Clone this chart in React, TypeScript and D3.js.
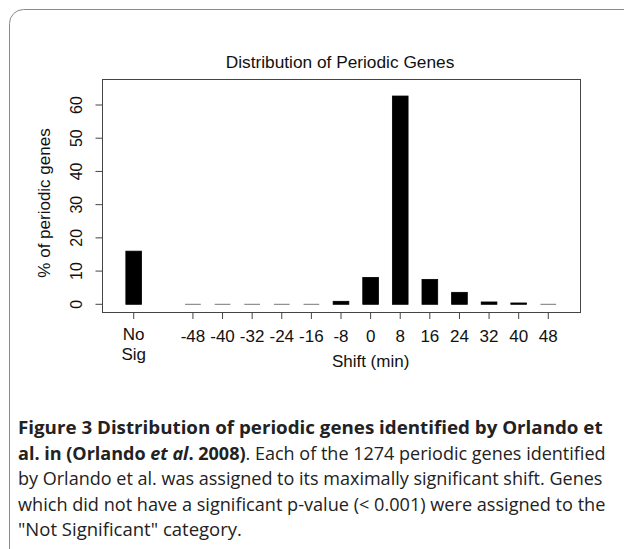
import React, { useEffect, useRef } from "react";
import * as d3 from "d3";

// shift categories (min); "" is the empty slot between No Sig and -48
const categories = ["No Sig", "", "-48", "-40", "-32", "-24", "-16", "-8", "0", "8", "16", "24", "32", "40", "48"];
const percents = [16.0, null, 0, 0, 0, 0, 0, 0.9, 8.1, 62.7, 7.5, 3.6, 0.7, 0.4, 0];
const yTicks = [0, 10, 20, 30, 40, 50, 60];

const captionLines = [
  [{ t: "Figure 3 Distribution of periodic genes identified by Orlando et", w: "bold" }],
  [
    { t: "al. in (Orlando ", w: "bold" },
    { t: "et al", w: "bold", i: true },
    { t: ". 2008)", w: "bold" },
    { t: ". Each of the 1274 periodic genes identified", w: "normal" },
  ],
  [{ t: "by Orlando et al. was assigned to its maximally significant shift. Genes", w: "normal" }],
  [{ t: "which did not have a significant p-value (< 0.001) were assigned to the", w: "normal" }],
  [{ t: "\"Not Significant\" category.", w: "normal" }],
];
const captionWidths = [585, 588, 585, 588, 224];

const W = 624;
const H = 549;

const App = () => {
  const ref = useRef<SVGSVGElement>(null);

  useEffect(() => {
    const svg = d3.select(ref.current);
    svg.selectAll("*").remove();

    const box = { left: 102.5, right: 580.5, top: 79.5, bottom: 312.5 };
    const font = "'Liberation Sans', Arial, Helvetica, sans-serif";

    // card outline
    svg.append("rect")
      .attr("x", 9.5).attr("y", 9.5)
      .attr("width", 700).attr("height", 556)
      .attr("rx", 14)
      .attr("fill", "#fff")
      .attr("stroke", "#8a8a8a");

    const x = d3.scaleBand()
      .domain(categories)
      .range([118.9, 563.1])
      .paddingInner(0.47)
      .paddingOuter(0.235);

    const y = d3.scaleLinear()
      .domain([0, 60])
      .range([304.3, 105]);

    // plot frame
    svg.append("rect")
      .attr("x", box.left).attr("y", box.top)
      .attr("width", box.right - box.left).attr("height", box.bottom - box.top)
      .attr("fill", "none")
      .attr("stroke", "#444");

    svg.append("text")
      .attr("x", 340).attr("y", 68)
      .attr("text-anchor", "middle")
      .attr("font-family", font).attr("font-size", 17.3)
      .attr("fill", "#111")
      .text("Distribution of Periodic Genes");

    const data = categories.map((c, i) => ({ c, v: percents[i] })).filter(d => d.v !== null);

    svg.append("g")
      .selectAll("rect")
      .data(data.filter(d => (d.v as number) > 0))
      .enter().append("rect")
      .attr("x", d => x(d.c) as number)
      .attr("y", d => y(d.v as number))
      .attr("width", x.bandwidth())
      .attr("height", d => y(0) - y(d.v as number))
      .attr("fill", "#000")
      .attr("stroke", "#000")
      .attr("stroke-width", 0.8);

    // zero-height bars drawn as thin lines
    svg.append("g")
      .selectAll("line")
      .data(data.filter(d => d.v === 0))
      .enter().append("line")
      .attr("x1", d => x(d.c) as number)
      .attr("x2", d => (x(d.c) as number) + x.bandwidth())
      .attr("y1", y(0)).attr("y2", y(0))
      .attr("stroke", "#777")
      .attr("stroke-width", 1);

    // y axis
    const ya = svg.append("g");
    yTicks.forEach(t => {
      ya.append("line")
        .attr("x1", box.left - 7).attr("x2", box.left)
        .attr("y1", y(t)).attr("y2", y(t))
        .attr("stroke", "#444");
      ya.append("text")
        .attr("transform", `translate(${82.4},${y(t)}) rotate(-90)`)
        .attr("text-anchor", "middle")
        .attr("font-family", font).attr("font-size", 16)
        .attr("fill", "#111")
        .text(t);
    });
    svg.append("text")
      .attr("transform", `translate(${49.5},${203}) rotate(-90)`)
      .attr("text-anchor", "middle")
      .attr("font-family", font).attr("font-size", 17)
      .attr("fill", "#111")
      .text("% of periodic genes");

    // x axis
    const xa = svg.append("g");
    categories.filter(c => c !== "").forEach(c => {
      const cx = (x(c) as number) + x.bandwidth() / 2;
      xa.append("line")
        .attr("x1", cx).attr("x2", cx)
        .attr("y1", box.bottom).attr("y2", box.bottom + 6.5)
        .attr("stroke", "#444");
      const lines = c === "No Sig" ? ["No", "Sig"] : [c];
      lines.forEach((l, k) => {
        xa.append("text")
          .attr("x", cx).attr("y", (c === "No Sig" ? 339.5 : 341.5) + k * 20)
          .attr("text-anchor", "middle")
          .attr("font-family", font).attr("font-size", 17)
          .attr("fill", "#111")
          .text(l);
      });
    });
    svg.append("text")
      .attr("x", (x("0") as number) + x.bandwidth() / 2).attr("y", 367)
      .attr("text-anchor", "middle")
      .attr("font-family", font).attr("font-size", 17)
      .attr("fill", "#111")
      .text("Shift (min)");

    // caption, each line squeezed horizontally to the reference width
    const cap = svg.append("g");
    captionLines.forEach((parts, i) => {
      const tx = cap.append("text")
        .attr("x", 0).attr("y", 0)
        .attr("font-family", "'Open Sans', 'Noto Sans', sans-serif")
        .attr("font-size", 18)
        .attr("fill", "#222");
      parts.forEach(p => {
        tx.append("tspan")
          .attr("font-weight", p.w)
          .attr("font-style", p.i ? "italic" : "normal")
          .text(p.t);
      });
      const natural = (tx.node() as SVGTextElement).getComputedTextLength() || captionWidths[i];
      const sx = captionWidths[i] / natural;
      tx.attr("transform", `translate(18,${434 + i * 25.5}) scale(${sx},1)`);
    });
  }, []);

  return <svg ref={ref} width={W} height={H} style={{ display: "block", position: "absolute", left: 0, top: 0 }}></svg>;
};

export default App;
